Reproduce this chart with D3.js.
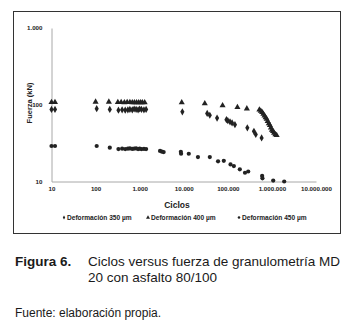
<!DOCTYPE html>
<html>
<head>
<meta charset="utf-8">
<script src="https://cdn.jsdelivr.net/npm/d3@7"></script>
<style>
  body { margin: 0; background: #fff; }
  svg { display: block; font-family: "Liberation Sans", Arial, sans-serif; }
</style>
</head>
<body>
<div id="chart"></div>
<script>
// Ticks dos eixos
const xTicks = [10, 100, 1000, 10000, 100000, 1000000, 10000000];
const yTicks = [10, 100, 1000];

// Deformación 350 µm (rombos)
const cycles350 = [10, 12, 106, 210, 330, 400, 470, 540, 600, 680, 750, 830, 920, 1000, 1100, 1250, 1400,
    9300, 34000, 39000, 57000, 93000, 100000, 112000, 125000, 145000, 277000, 391000, 430000, 584000];
const force350 = [87, 87, 89, 87, 85, 86, 85, 86, 87, 86, 88, 87, 86, 88, 87, 86, 87,
    81, 77, 73, 67, 64, 62, 60, 58, 55, 50, 45, 41, 37];

// Deformación 400 µm (triángulos)
const cycles400 = [10, 12, 100, 200, 320, 380, 450, 520, 600, 680, 760, 850, 950, 1050, 1150, 1300,
    9000, 30000, 76000, 165000, 270000,
    520000, 560000, 600000, 640000, 680000, 720000, 760000, 800000, 850000, 900000, 950000,
    1000000, 1060000, 1120000, 1200000, 1280000];
const force400 = [108, 108, 109, 109, 108, 108, 107, 108, 108, 107, 107, 107, 107, 107, 107, 107,
    107, 104, 98, 93, 89,
    86, 83, 80, 76, 72, 68, 65, 61, 57, 54, 50,
    47, 45, 43, 41, 40];

// Deformación 450 µm (círculos)
const cycles450 = [10, 12, 106, 210, 330, 400, 470, 540, 600, 680, 750, 830, 920, 1000, 1100, 1250, 1400,
    2900, 3200, 3500, 8600, 8700, 13000, 21000, 39000, 60000, 81000, 115000, 137000, 187000,
    245000, 290000, 600000, 610000, 1070000, 1900000];
const force450 = [29, 29, 29, 27.6, 26.5, 26.8, 26.5, 26.8, 27, 26.6, 26.9, 27, 26.5, 26.8, 26.5, 26.6, 26.5,
    25, 24.5, 24.2, 24.4, 23, 23, 20.8, 20.8, 18.3, 18.6, 16.7, 15.9, 14.4,
    13, 13.5, 11.8, 11, 10.3, 10];

const seriesNames = ["Deformación 350 µm", "Deformación 400 µm", "Deformación 450 µm"];

// Formato com separador de milhar "."
const esLocale = d3.formatLocale({ decimal: ",", thousands: ".", grouping: [3], currency: ["", ""] });
const fmt = esLocale.format(",d");

const width = 345, height = 327;
const ink = "#222";

const svg = d3.select("#chart")
    .append("svg")
    .attr("width", width)
    .attr("height", height);

// Moldura do gráfico
svg.append("rect")
    .attr("x", 13.5).attr("y", 11.5)
    .attr("width", 327).attr("height", 222)
    .attr("fill", "none")
    .attr("stroke", "#333")
    .attr("stroke-width", 1);

// Escalas
const x = d3.scaleLog().domain([10, 10000000]).range([51.5, 316]);
const y = d3.scaleLog().domain([10, 1000]).range([181.5, 28]);

// Eixo X
const xAxis = svg.append("g")
    .attr("transform", "translate(0,181.5)")
    .call(d3.axisBottom(x).tickValues(xTicks).tickFormat(fmt).tickSize(0).tickPadding(5));
xAxis.select(".domain").attr("stroke", "#a8a8a8");
xAxis.selectAll("text")
    .attr("font-size", 6.2).attr("font-weight", "bold").attr("fill", ink)
    .attr("font-family", "Liberation Sans, Arial, sans-serif");

// Eixo Y
const yAxis = svg.append("g")
    .attr("transform", "translate(51.5,0)")
    .call(d3.axisLeft(y).tickValues(yTicks).tickFormat(fmt).tickSize(0).tickPadding(9));
yAxis.select(".domain").attr("stroke", "#a8a8a8");
yAxis.selectAll("text")
    .attr("font-size", 6.2).attr("font-weight", "bold").attr("fill", ink)
    .attr("font-family", "Liberation Sans, Arial, sans-serif");

// Títulos dos eixos
svg.append("text")
    .attr("x", 177).attr("y", 208)
    .attr("text-anchor", "middle")
    .attr("font-size", 8.5).attr("font-weight", "bold").attr("fill", ink)
    .text("Ciclos");

svg.append("text")
    .attr("transform", "translate(32,103) rotate(-90)")
    .attr("text-anchor", "middle")
    .attr("font-size", 7.5).attr("font-weight", "bold").attr("fill", ink)
    .text("Fuerza (kN)");

// Pontos das séries
const symbols = [d3.symbolDiamond, d3.symbolTriangle, d3.symbolCircle];
const sizes = [15, 16, 14];
const series = [
    d3.zip(cycles350, force350),
    d3.zip(cycles400, force400),
    d3.zip(cycles450, force450)
];

series.forEach((pts, i) => {
    svg.append("g")
        .selectAll("path")
        .data(pts)
        .enter()
        .append("path")
        .attr("transform", d => `translate(${x(d[0])},${y(d[1])})`)
        .attr("d", d3.symbol().type(symbols[i]).size(sizes[i]))
        .attr("fill", ink);
});

// Legenda
const legendX = [64, 148, 239];
const legend = svg.append("g")
    .selectAll("g")
    .data(seriesNames)
    .enter().append("g")
    .attr("transform", (d, i) => `translate(${legendX[i]},217.5)`);

legend.append("path")
    .attr("d", (d, i) => d3.symbol().type(symbols[i]).size([5, 7, 5][i])())
    .attr("fill", ink);

legend.append("text")
    .attr("x", 3)
    .attr("dy", "0.35em")
    .attr("font-size", 6.6).attr("font-weight", "bold").attr("fill", ink)
    .text(d => d);

// Legenda da figura
const caption = svg.append("g").attr("fill", "#1a1a1a");
caption.append("text")
    .attr("x", 15).attr("y", 266)
    .attr("font-size", 13.5).attr("font-weight", "bold")
    .text("Figura 6.");
caption.append("text")
    .attr("x", 88).attr("y", 266)
    .attr("font-size", 13.5)
    .text("Ciclos versus fuerza de granulometría MD");
caption.append("text")
    .attr("x", 88).attr("y", 282)
    .attr("font-size", 13.5)
    .text("20 con asfalto 80/100");
caption.append("text")
    .attr("x", 15).attr("y", 317)
    .attr("font-size", 12)
    .text("Fuente: elaboración propia.");
</script>
</body>
</html>
